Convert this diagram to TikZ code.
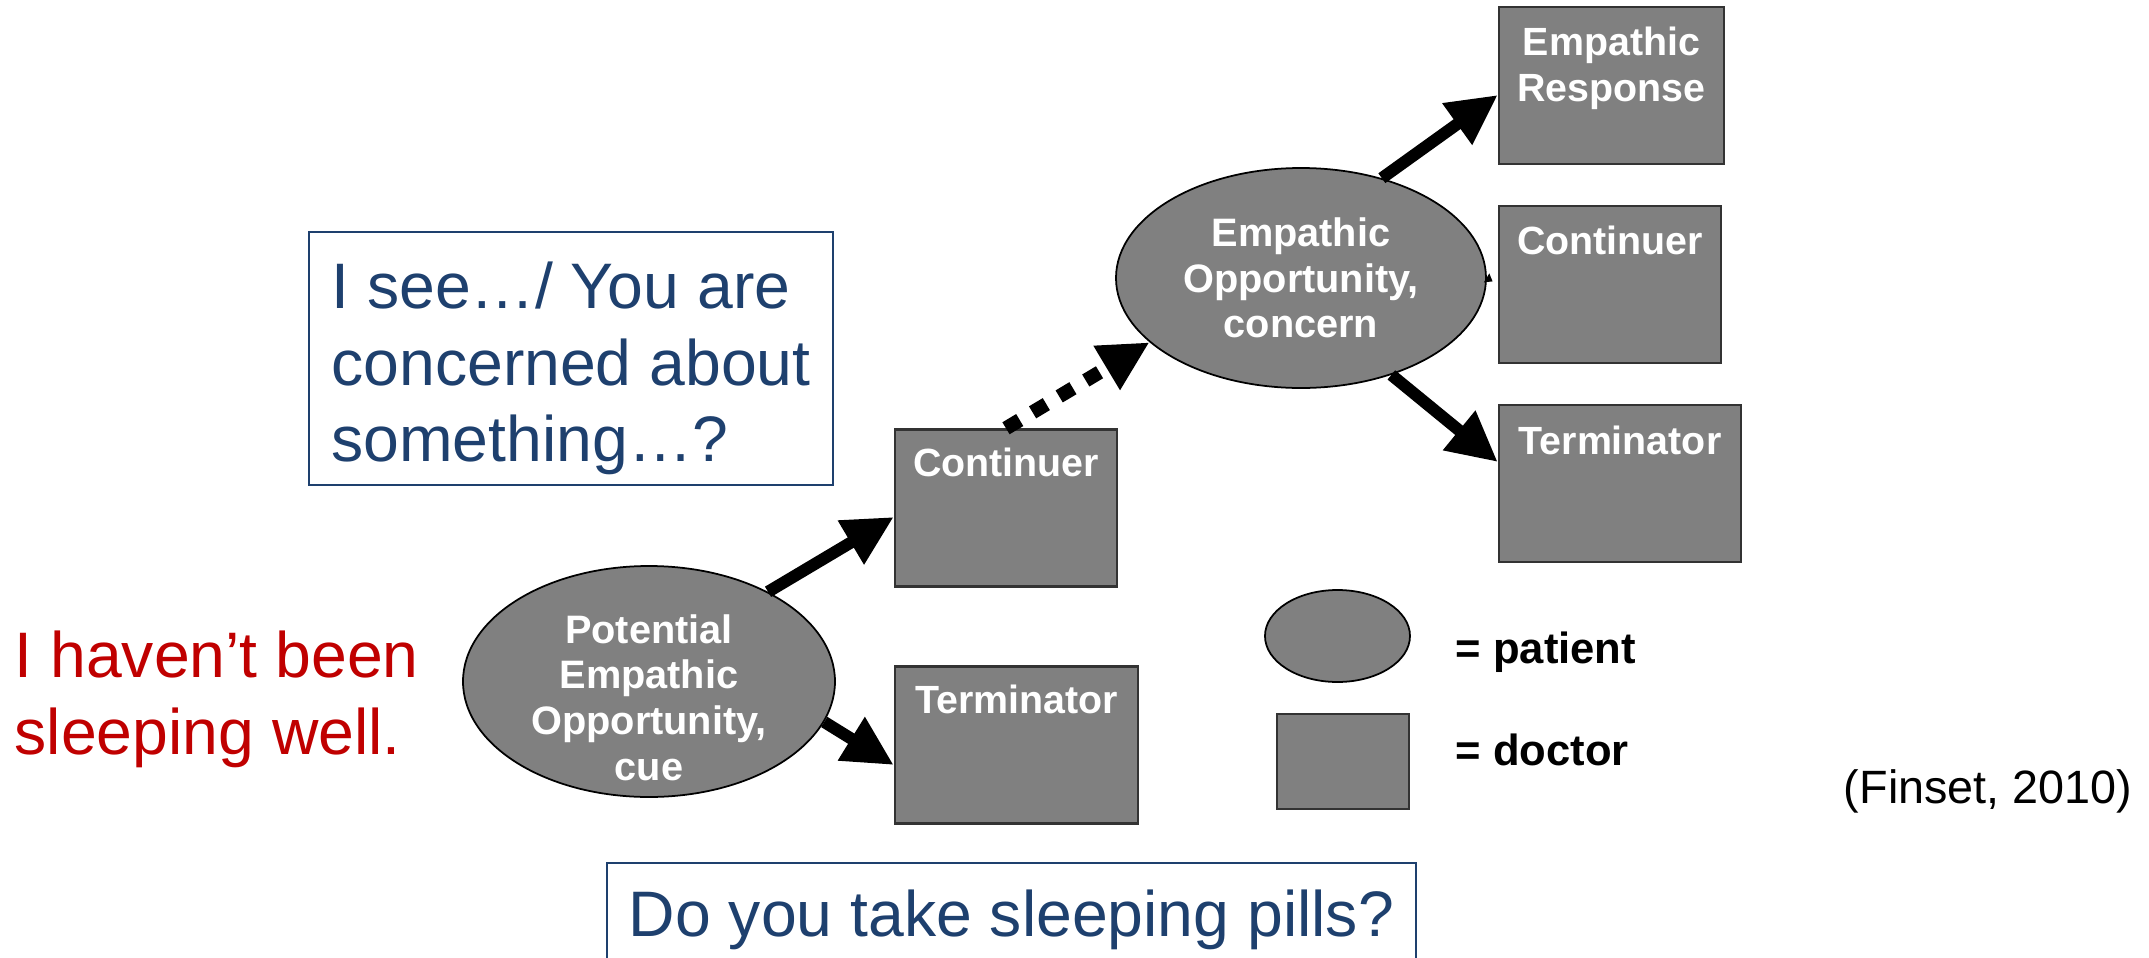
\documentclass[tikz,border=0pt]{standalone}
\usepackage{fontspec}
\setmainfont{Liberation Sans}
\usetikzlibrary{arrows.meta, positioning, calc, shapes.geometric}

\definecolor{talkblue}{RGB}{30,64,110}
\definecolor{talkred}{RGB}{192,0,0}
\definecolor{nodegray}{RGB}{128,128,128}

\begin{document}
\begin{tikzpicture}[>=Stealth, line join=miter]
	
	%======================
	% STYLES
	%======================
	\tikzset{
		patient/.style={ellipse, draw=black, line width=0.5pt, fill=nodegray, text=white,
			inner sep=0pt, align=center, font=\bfseries\fontsize{11.3}{13}\selectfont},
		pattxt/.style={text=white, inner sep=0pt, align=center,
			font=\bfseries\fontsize{11.3}{13}\selectfont},
		doctor/.style={rectangle, draw=black!80, line width=0.7pt, fill=nodegray,
			inner sep=0pt, minimum height=1.57cm},
		doctxt/.style={anchor=north, text=white, inner sep=0pt, align=center,
			font=\bfseries\fontsize{11.2}{13}\selectfont},
		flow/.style={line width=0.12cm, -{Triangle[length=0.5cm, width=0.48cm]}},
		flowdot/.style={flow, line width=0.14cm, dash pattern=on 0.16cm off 0.15cm},
		talkbox/.style={draw=talkblue, line width=0.75pt, inner sep=0pt},
		talktxt/.style={text=talkblue, align=left, inner sep=0pt,
			font=\fontsize{18.3}{21.8}\selectfont},
		speech/.style={text=talkred, align=left, inner sep=0pt,
			font=\fontsize{18.3}{21.8}\selectfont},
		keytext/.style={anchor=base west, inner sep=0pt,
			font=\bfseries\fontsize{12.4}{14}\selectfont}
	}
	
	\useasboundingbox (0,0) rectangle (21.49,9.57);
	
	%======================
	% PATIENT STATEMENTS (ellipses)
	%======================
	\node[patient, minimum width=3.72cm, minimum height=2.31cm] (pot) at (6.49,2.755) {};
	\node[pattxt] (pott) at ([yshift=-0.16cm]pot.center)
	{Potential\\Empathic\\Opportunity,\\cue};
	\node[patient, minimum width=3.70cm, minimum height=2.20cm] (emp) at (13.01,6.79)
	{Empathic\\Opportunity,\\concern};
	
	%======================
	% DOCTOR REPLIES (boxes)
	%======================
	\node[doctor, minimum width=2.22cm] (cont1) at (10.06,4.49) {};
	\node[doctor, minimum width=2.43cm] (term1) at (10.165,2.12) {};
	\node[doctor, minimum width=2.25cm] (resp) at (16.115,8.715) {};
	\node[doctor, minimum width=2.22cm] (cont2) at (16.10,6.725) {};
	\node[doctor, minimum width=2.42cm] (term2) at (16.20,4.735) {};
	
	\node[doctxt] (cont1t) at ([yshift=-0.19cm]cont1.north) {Continuer};
	\node[doctxt] (term1t) at ([yshift=-0.19cm]term1.north) {Terminator};
	\node[doctxt] (respt) at ([yshift=-0.21cm]resp.north) {Empathic\\Response};
	\node[doctxt] (cont2t) at ([yshift=-0.21cm]cont2.north) {Continuer};
	\node[doctxt] (term2t) at ([yshift=-0.21cm]term2.north) {Terminator};
	
	%======================
	% ARROWS
	%======================
	\draw[flow] (pot.37) -- ([yshift=-0.09cm]cont1.west);
	\draw[flow] (pot.-13) -- ([yshift=-0.20cm]term1.west);
	\draw[flowdot] (cont1.north) -- (emp.203);
	\draw[flow] (emp.51) -- ([yshift=-0.095cm]resp.west);
	\draw[line width=0.02cm, -{Triangle[length=0.07cm, width=0.1cm]}, shorten >=0.06cm]
	(emp.east) -- (cont2.west);
	\draw[flow] (emp.-47) -- ([yshift=0.215cm]term2.west);
	
	%======================
	% LEGEND
	%======================
	\node[patient, minimum width=1.45cm, minimum height=0.92cm] (keyell) at (13.375,3.21) {};
	\node[doctor, minimum width=1.32cm, minimum height=0.95cm] (keybox) at (13.43,1.955) {};
	\node[keytext] (keypat) at (14.55,2.94) {= patient};
	\node[keytext] (keydoc) at (14.55,1.92) {= doctor};
	
	%======================
	% DIALOGUE TEXT
	%======================
	\node[speech, anchor=north west] (said) at (0.14,3.265)
	{I haven’t been\\sleeping well.};
	
	\node[talkbox, minimum width=5.24cm, minimum height=2.53cm] (see) at (5.71,5.985) {};
	\node[talktxt] (seet) at ([yshift=-0.1cm]see.center)
	{I see…/ You are\\concerned about\\something…?};
	
	\node[talkbox, minimum width=8.09cm, minimum height=1.14cm] (pills) at (10.115,0.37) {};
	\node[talktxt] (pillst) at (pills.center) {Do you take sleeping pills?};
	
	\node[anchor=base east, inner sep=0pt, font=\fontsize{13.3}{16}\selectfont] (cite)
	at (21.33,1.54) {(Finset, 2010)};
	
\end{tikzpicture}
\end{document}
